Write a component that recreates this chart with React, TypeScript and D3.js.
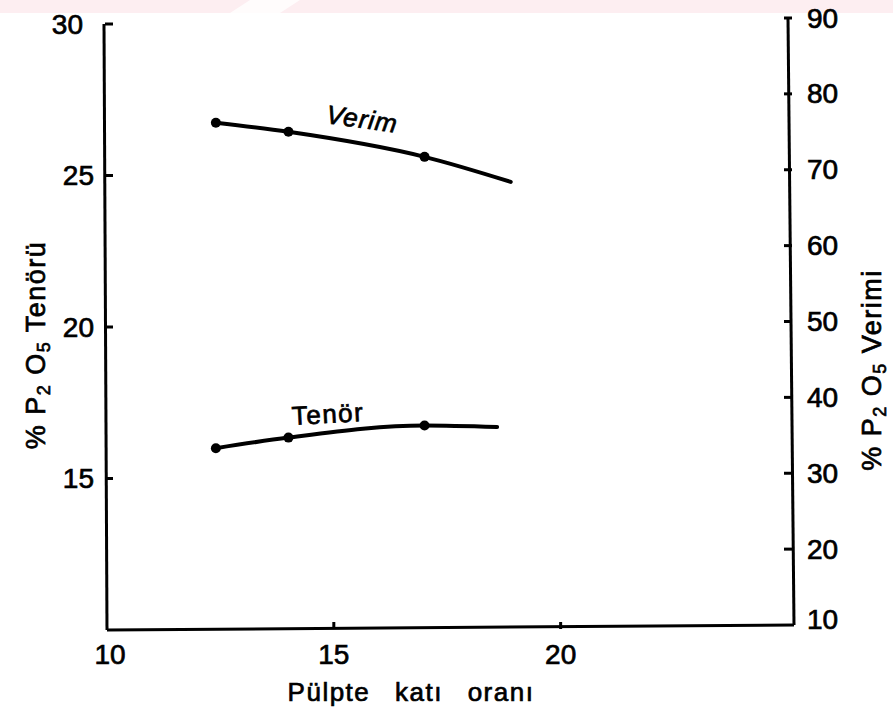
import React from "react";
import * as d3 from "d3";

const xTicks = [10, 15, 20];
const leftTicks = [15, 20, 25, 30];
const rightTicks = [10, 20, 30, 40, 50, 60, 70, 80, 90];

const verimX = [12.4, 14, 17, 18.9];
const verimY = [76.2, 75.0, 71.7, 68.4];
const verimMarked = [true, true, true, false];

const tenorX = [12.4, 14, 17, 18.6];
const tenorY = [16.0, 16.35, 16.75, 16.7];
const tenorMarked = [true, true, true, false];

const W = 893;
const H = 710;
const FONT = "'Liberation Sans', Arial, sans-serif";
const BOLD = { stroke: "#000", strokeWidth: 0.7 };

export default function App() {
  const x = d3.scaleLinear().domain([10, 25.1]).range([107, 792]);
  const yL = d3.scaleLinear().domain([10, 30]).range([630, 24]);
  const yR = d3.scaleLinear().domain([10, 90]).range([625, 18]);

  const verimPts = verimX.map((v, i) => [x(v), yR(verimY[i])] as [number, number]);
  const tenorPts = tenorX.map((v, i) => [x(v), yL(tenorY[i])] as [number, number]);
  const line = d3.line<[number, number]>().curve(d3.curveMonotoneX);

  const x0 = x(10);
  const x1 = x(25.1);

  return (
    <svg
      width={W}
      height={H}
      style={{ position: "absolute", left: 0, top: 0, display: "block", background: "#fff" }}
    >
      <rect x={0} y={0} width={W} height={13} fill="#fdeef1" />
      <polygon points="250,0 300,0 280,13 230,13" fill="#ffffff" opacity={0.8} />

      {/* axes lines */}
      <line x1={x0 - 3} y1={yL(30)} x2={x0} y2={yL(10)} stroke="#000" strokeWidth={3} />
      <line x1={x1 - 4} y1={yR(90)} x2={x1 + 2} y2={yR(10)} stroke="#000" strokeWidth={3} />
      <line x1={x0} y1={yL(10)} x2={x1 + 2} y2={yR(10)} stroke="#000" strokeWidth={3} />

      {/* left ticks */}
      {leftTicks.map((t) => (
        <g key={"l" + t}>
          <line x1={x0 - 2} x2={x0 + 6} y1={yL(t)} y2={yL(t)} stroke="#000" strokeWidth={3} />
          <text
            x={t === 30 ? 83 : 94}
            y={yL(t)}
            textAnchor="end"
            dominantBaseline="central"
            fontFamily={FONT}
            fontSize={28}
            fill="#000"
            {...BOLD}
          >
            {t}
          </text>
        </g>
      ))}

      {/* right ticks */}
      {rightTicks.map((t) => (
        <g key={"r" + t}>
          {t !== 10 && (
            <line x1={x1 - 8} x2={x1} y1={yR(t)} y2={yR(t)} stroke="#000" strokeWidth={3} />
          )}
          <text
            x={x1 + 15}
            y={yR(t) - (t === 10 ? 6 : 0)}
            textAnchor="start"
            dominantBaseline="central"
            fontFamily={FONT}
            fontSize={28}
            fill="#000"
            {...BOLD}
          >
            {t}
          </text>
        </g>
      ))}

      {/* x ticks */}
      {xTicks.map((t) => (
        <g key={"x" + t}>
          {t !== 10 && (
            <line x1={x(t)} x2={x(t)} y1={629} y2={622} stroke="#000" strokeWidth={3} />
          )}
          <text
            x={x(t) + (t === 10 ? 3 : 0)}
            y={654}
            textAnchor="middle"
            dominantBaseline="central"
            fontFamily={FONT}
            fontSize={28}
            fill="#000"
            {...BOLD}
          >
            {t}
          </text>
        </g>
      ))}

      {/* axis titles */}
      <text
        x={411}
        y={692}
        textAnchor="middle"
        dominantBaseline="central"
        fontFamily={FONT}
        fontSize={26}
        letterSpacing={1.5}
        wordSpacing={16}
        fill="#000"
        {...BOLD}
      >
        Pülpte katı oranı
      </text>

      <text
        transform={`translate(36,345) rotate(-90)`}
        textAnchor="middle"
        dominantBaseline="central"
        fontFamily={FONT}
        fontSize={27}
        letterSpacing={1.5}
        fill="#000"
        {...BOLD}
      >
        % P<tspan fontSize={18} dy={8}>2</tspan>
        <tspan dy={-8}> O</tspan>
        <tspan fontSize={18} dy={8}>5</tspan>
        <tspan dy={-8}> Tenörü</tspan>
      </text>

      <text
        transform={`translate(872,370) rotate(-90)`}
        textAnchor="middle"
        dominantBaseline="central"
        fontFamily={FONT}
        fontSize={27}
        letterSpacing={1.5}
        fill="#000"
        {...BOLD}
      >
        % P<tspan fontSize={18} dy={8}>2</tspan>
        <tspan dy={-8}> O</tspan>
        <tspan fontSize={18} dy={8}>5</tspan>
        <tspan dy={-8}> Verimi</tspan>
      </text>

      {/* series */}
      <path d={line(verimPts) || ""} fill="none" stroke="#000" strokeWidth={4} strokeLinecap="round" />
      {verimPts.map((p, i) =>
        verimMarked[i] ? <circle key={"vm" + i} cx={p[0]} cy={p[1]} r={5} fill="#000" /> : null
      )}
      <path d={line(tenorPts) || ""} fill="none" stroke="#000" strokeWidth={4} strokeLinecap="round" />
      {tenorPts.map((p, i) =>
        tenorMarked[i] ? <circle key={"tm" + i} cx={p[0]} cy={p[1]} r={5} fill="#000" /> : null
      )}

      {/* series labels */}
      <text
        transform={`translate(362,119) rotate(8)`}
        textAnchor="middle"
        dominantBaseline="central"
        fontFamily={FONT}
        fontSize={26}
        fontStyle="italic"
        letterSpacing={1}
        fill="#000"
        {...BOLD}
      >
        Verim
      </text>
      <text
        transform={`translate(328,414) rotate(-3)`}
        textAnchor="middle"
        dominantBaseline="central"
        fontFamily={FONT}
        fontSize={26}
        letterSpacing={1.5}
        fill="#000"
        {...BOLD}
      >
        Tenör
      </text>
    </svg>
  );
}
